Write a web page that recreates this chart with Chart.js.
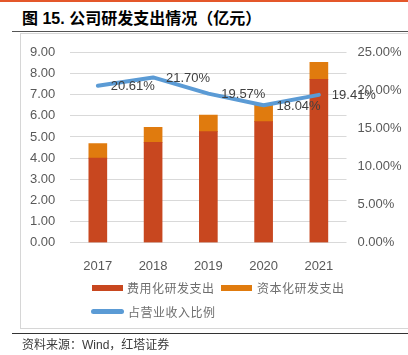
<!DOCTYPE html>
<html>
<head>
<meta charset="utf-8">
<script src="https://cdn.jsdelivr.net/npm/chart.js@4/dist/chart.umd.min.js"></script>
<style>
  html, body { margin: 0; padding: 0; background: #fff; }
  body { width: 408px; height: 355px; position: relative; overflow: hidden;
         font-family: "Liberation Sans", "Noto Sans CJK SC", sans-serif; }
  #topbar { position: absolute; left: 0; top: 0; width: 408px; height: 2px; background: #E4572A; }
  #title { position: absolute; left: 22px; top: 9px; font-size: 16px; font-weight: bold; color: #000;
           font-family: "Liberation Sans", "Noto Sans CJK SC", sans-serif; white-space: nowrap; line-height: 20px; }
  #tline { position: absolute; left: 12px; top: 31px; width: 396px; height: 1px; background: #555; }
  #box { position: absolute; left: 20px; top: 33px; width: 400px; height: 296px; border: 1px solid #d6d6d6; box-sizing: border-box; }
  #bline { position: absolute; left: 12px; top: 333px; width: 396px; height: 1px; background: #333; }
  #source { position: absolute; left: 22px; top: 337px; font-size: 12px; color: #3a3a3a; white-space: nowrap; line-height: 16px;
            font-family: "Liberation Sans", "Noto Sans CJK SC", sans-serif; }
  #chart { position: absolute; left: 0; top: 0; }
  .lg { position: absolute; font-size: 12px; color: #6e6e6e; letter-spacing: 0.5px; white-space: nowrap; line-height: 16px;
        font-family: "Noto Sans CJK SC", sans-serif; }
  .sw { position: absolute; }
</style>
</head>
<body>
<div id="topbar"></div>
<div id="title">图 15. 公司研发支出情况（亿元）</div>
<div id="tline"></div>
<div id="box"></div>
<canvas id="chart" width="408" height="355"></canvas>
<div class="sw" style="left:92px;top:285px;width:31px;height:6px;background:#C8471F"></div>
<div class="lg" id="lg0" style="left:127px;top:280px"></div>
<div class="sw" style="left:221px;top:285px;width:31px;height:6px;background:#E07B0E"></div>
<div class="lg" id="lg1" style="left:257px;top:280px"></div>
<div class="sw" style="left:91px;top:309px;width:33px;height:5px;border-radius:3px;background:#5B9BD5"></div>
<div class="lg" id="lg2" style="left:128px;top:304px"></div>
<div id="bline"></div>
<div id="source">资料来源：Wind，红塔证券</div>
<script>
const categories = ["2017", "2018", "2019", "2020", "2021"];
const seriesNames = ["费用化研发支出", "资本化研发支出", "占营业收入比例"];
const expensedRD = [4.00, 4.74, 5.25, 5.72, 7.72];
const capitalizedRD = [0.68, 0.71, 0.78, 0.79, 0.80];
const ratioPct = [20.61, 21.70, 19.57, 18.04, 19.41];
const leftTicks = [0, 1, 2, 3, 4, 5, 6, 7, 8, 9];
const rightTicks = [0, 5, 10, 15, 20, 25];

document.getElementById('lg0').textContent = seriesNames[0];
document.getElementById('lg1').textContent = seriesNames[1];
document.getElementById('lg2').textContent = seriesNames[2];

const labelPlugin = {
  id: 'pctLabels',
  afterDatasetsDraw(chart) {
    const meta = chart.getDatasetMeta(2);
    const ctx = chart.ctx;
    ctx.save();
    ctx.font = '13px "Liberation Sans", Arial, sans-serif';
    ctx.fillStyle = '#404040';
    ctx.textAlign = 'center';
    ctx.textBaseline = 'middle';
    meta.data.forEach((pt, i) => {
      ctx.fillText(ratioPct[i].toFixed(2) + '%', pt.x + 35, pt.y + 1);
    });
    ctx.restore();
  }
};

new Chart(document.getElementById('chart'), {
  data: {
    labels: categories,
    datasets: [
      { type: 'bar', label: seriesNames[0], data: expensedRD, backgroundColor: '#C8471F',
        stack: 's', yAxisID: 'y', barThickness: 18, order: 2 },
      { type: 'bar', label: seriesNames[1], data: capitalizedRD, backgroundColor: '#E07B0E',
        stack: 's', yAxisID: 'y', barThickness: 18, order: 2 },
      { type: 'line', label: seriesNames[2], data: ratioPct, borderColor: '#5B9BD5', borderWidth: 4,
        pointRadius: 0, tension: 0, yAxisID: 'y1', order: 0, borderCapStyle: 'round', borderJoinStyle: 'round' }
    ]
  },
  options: {
    responsive: false,
    animation: false,
    layout: { padding: { left: 0, right: 0, top: 52.3, bottom: 82.3 } },
    plugins: { legend: { display: false }, tooltip: { enabled: false } },
    scales: {
      x: {
        stacked: true,
        grid: { display: false },
        border: { display: false },
        ticks: { color: '#595959', font: { size: 13, family: '"Liberation Sans", Arial, sans-serif' }, padding: 8 },
        afterFit(s) { s.height = 30; }
      },
      y: {
        position: 'left',
        stacked: true,
        min: 0, max: 9,
        afterBuildTicks(s) { s.ticks = leftTicks.map(v => ({ value: v })); },
        grid: { color: '#d9d9d9', drawTicks: false, lineWidth: 1 },
        border: { display: false },
        ticks: { color: '#595959', padding: 15, font: { size: 13, family: '"Liberation Sans", Arial, sans-serif' },
                 callback: v => Number(v).toFixed(2) },
        afterFit(s) { s.width = 70.2; }
      },
      y1: {
        position: 'right',
        min: 0, max: 25,
        afterBuildTicks(s) { s.ticks = rightTicks.map(v => ({ value: v })); },
        grid: { display: false, drawTicks: false },
        border: { display: false },
        ticks: { color: '#595959', padding: 11, font: { size: 13, family: '"Liberation Sans", Arial, sans-serif' },
                 callback: v => Number(v).toFixed(2) + '%' },
        afterFit(s) { s.width = 61.5; }
      }
    }
  },
  plugins: [labelPlugin]
});
</script>
</body>
</html>
